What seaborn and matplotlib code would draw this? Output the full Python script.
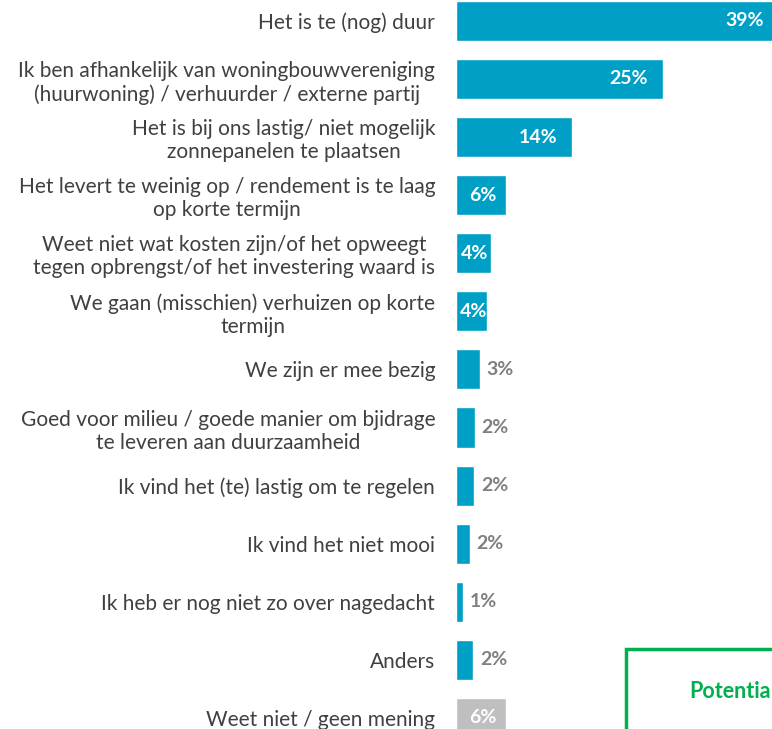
import matplotlib
matplotlib.use("Agg")
import matplotlib.pyplot as plt
import seaborn as sns
from matplotlib.patches import Rectangle

# answers and shares (%)
labels = [
    "Het is te (nog) duur",
    "Ik ben afhankelijk van woningbouwvereniging\n(huurwoning) / verhuurder / externe partij",
    "Het is bij ons lastig/ niet mogelijk\nzonnepanelen te plaatsen",
    "Het levert te weinig op / rendement is te laag\nop korte termijn",
    "Weet niet wat kosten zijn/of het opweegt\ntegen opbrengst/of het investering waard is",
    "We gaan (misschien) verhuizen op korte\ntermijn",
    "We zijn er mee bezig",
    "Goed voor milieu / goede manier om bjidrage\nte leveren aan duurzaamheid",
    "Ik vind het (te) lastig om te regelen",
    "Ik vind het niet mooi",
    "Ik heb er nog niet zo over nagedacht",
    "Anders",
    "Weet niet / geen mening",
]
values = [39.0, 25.0, 14.0, 6.1, 4.2, 3.8, 2.9, 2.3, 2.2, 1.7, 0.9, 2.1, 6.1]
shown = ["39%", "25%", "14%", "6%", "4%", "4%", "3%", "2%", "2%", "2%", "1%", "2%", "6%"]

blue = "#009FC6"
grey_bar = "#BFBFBF"
colors = [blue] * 12 + [grey_bar]

sns.set_style("white")
plt.rcParams["font.family"] = ["Lato", "DejaVu Sans"]

fig = plt.figure(figsize=(7.72, 7.29), dpi=100)
ax = fig.add_axes([456 / 772, 0, 1 - 456 / 772, 1])

sns.barplot(x=values, y=labels, hue=labels, palette=colors, legend=False,
            orient="h", width=0.69, ax=ax, saturation=1)

ax.set_xlim(0, 38.2)
ax.set_ylim(12.19, -0.36)
sns.despine(ax=ax, left=True, bottom=True)
ax.set_xticks([])
ax.set_xlabel("")
ax.set_ylabel("")
ax.tick_params(axis="y", length=0, pad=15)
for t in ax.get_yticklabels():
    t.set_fontsize(15)
    t.set_color("#404040")
    t.set_multialignment("center")

# value labels: white inside the bars, grey next to the smallest ones
for i, (v, s) in enumerate(zip(values, shown)):
    if v >= 10:
        ax.text(v - 1.8, i, s, ha="right", va="center",
                color="white", fontsize=14, fontweight="bold")
    elif v >= 3.5:
        ax.text(v / 2 + 0.2, i, s, ha="center", va="center",
                color="white", fontsize=14, fontweight="bold")
    else:
        ax.text(v + 0.8, i, s, ha="left", va="center",
                color="#808080", fontsize=14, fontweight="bold")

# green box at the bottom right, cut off by the figure edge
box = Rectangle((626 / 772, -0.1), 0.4, 1 - 649 / 729 + 0.1, transform=fig.transFigure,
                fill=False, edgecolor="#00B050", linewidth=2.5, clip_on=False)
fig.add_artist(box)
fig.text(771 / 772, 1 - 692 / 729, "Potentia", color="#00B050", fontsize=15.5,
         fontweight="bold", ha="right", va="center")

fig.savefig("out.png", dpi=100)
